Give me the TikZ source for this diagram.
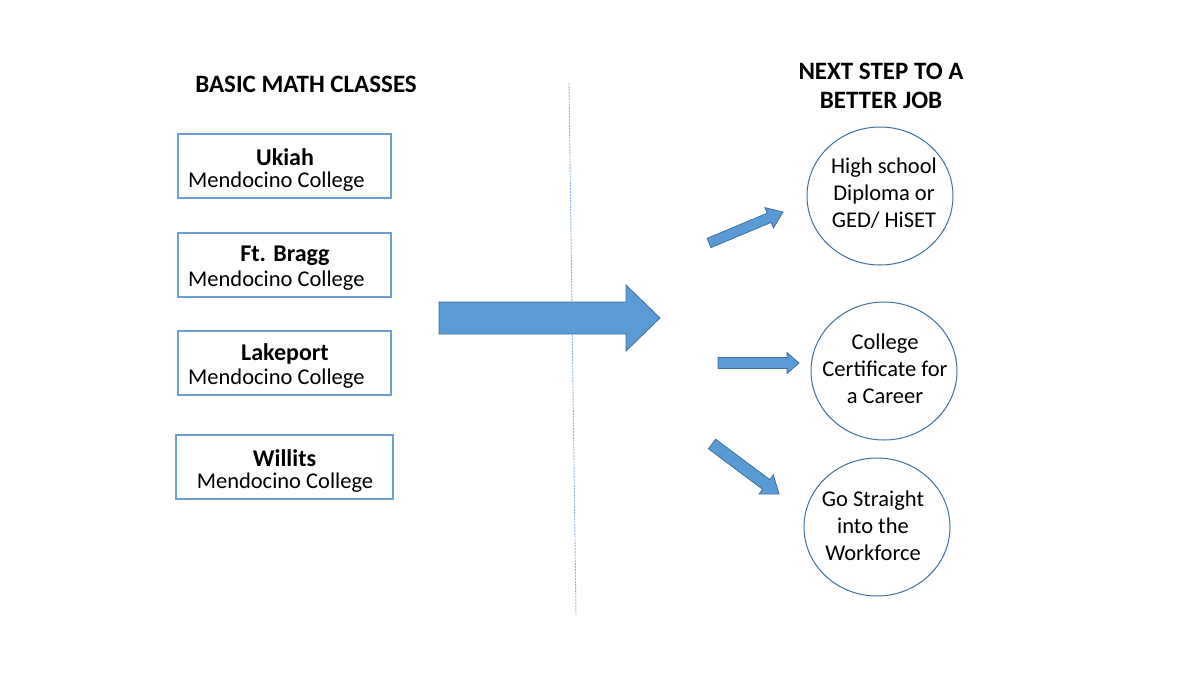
\documentclass[tikz,border=0pt]{standalone}
\usepackage{fontspec}
\setmainfont{Carlito}
\usetikzlibrary{calc,shapes.geometric}
\definecolor{boxblue}{HTML}{6C9FD6}
\definecolor{arrowfill}{HTML}{5B9BD5}
\definecolor{arrowline}{HTML}{41719C}
\definecolor{ringline}{HTML}{41719C}
\definecolor{divline}{HTML}{8FB4DE}
\newcommand\blockarr[5]{%
  \path ($(#2)!#5!(#1)$) coordinate (ba-n);
  \filldraw[arrowstyle] ($(#1)!#3!90:(#2)$) -- ($(ba-n)!#3!-90:(#1)$) -- ($(ba-n)!#4!-90:(#1)$) -- (#2) -- ($(ba-n)!#4!90:(#1)$) -- ($(ba-n)!#3!90:(#1)$) -- ($(#1)!#3!-90:(#2)$) -- cycle;}
\tikzset{
  arrowstyle/.style={fill=arrowfill, draw=arrowline, line width=0.8pt, line join=miter},
  campus/.style={draw=boxblue, line width=2.8pt, fill=white, minimum width=213pt, minimum height=64pt, inner sep=0pt},
  bodytext/.style={font=\fontsize{22.5}{27}\selectfont, inner sep=0pt, align=center},
  boldtext/.style={font=\fontsize{24}{27}\selectfont\bfseries, inner sep=0pt},
  titletext/.style={font=\fontsize{25}{29}\selectfont\bfseries, inner sep=0pt, align=center},
  goal/.style={ellipse, draw=ringline, line width=1pt, minimum width=146pt, minimum height=138pt, inner sep=0pt},
  goaltext/.style={align=center, inner sep=0pt, font=\fontsize{22.5}{27}\selectfont},
}
\begin{document}
\begin{tikzpicture}[x=1pt,y=-1pt]
\fill[white] (0,0) rectangle (1200,675);
\useasboundingbox (0,0) rectangle (1200,675);

% divider
\coordinate (dtop) at (569,83);
\coordinate (dbot) at (576,615);
\draw[divline, line width=0.9pt, dash pattern=on 2pt off 1pt] (dtop) -- (dbot);

% titles
\node[titletext] (lefttitle) at (306,84) {BASIC MATH CLASSES};
\node[titletext] (righttitle) at (881,86) {NEXT STEP TO A\\BETTER JOB};

% campus boxes
\node[campus] (ukiah) at (284.5,166) {};
\node[boldtext] (ukiahT) at (285,157) {Ukiah};
\node[bodytext, anchor=west] (ukiahM) at (188,182) {Mendocino College};

\node[campus] (bragg) at (284.5,265) {};
\node[boldtext] (braggT) at (285,256) {Ft. Bragg};
\node[bodytext, anchor=west] (braggM) at (188,281) {Mendocino College};

\node[campus] (lake) at (284.5,363) {};
\node[boldtext] (lakeT) at (285,354) {Lakeport};
\node[bodytext, anchor=west] (lakeM) at (188,379) {Mendocino College};

\node[campus, minimum width=217pt] (willits) at (284.5,467) {};
\node[boldtext] (willitsT) at (284.5,458) {Willits};
\node[bodytext] (willitsM) at (285,483) {Mendocino College};

% goals
\node[goal] (hs) at (880,196) {};
\node[goaltext] (hsT) at (884,193) {High school\\Diploma or\\GED/ HiSET};
\node[goal] (cert) at (884,371) {};
\node[goaltext] (certT) at (885,369) {College\\Certificate for\\a Career};
\node[goal] (work) at (877,527) {};
\node[goaltext] (workT) at (873,526) {Go Straight\\into the\\Workforce};

% arrows
\coordinate (bigS) at (439,318);
\coordinate (bigE) at (660,318);
\blockarr{bigS}{bigE}{16pt}{33pt}{34pt}

\coordinate (a1S) at (709,243);
\coordinate (a1E) at (783,212);
\blockarr{a1S}{a1E}{5pt}{11pt}{15pt}

\coordinate (a2S) at (718,363);
\coordinate (a2E) at (799,363);
\blockarr{a2S}{a2E}{5.5pt}{10.5pt}{12pt}

\coordinate (a3S) at (712,444);
\coordinate (a3E) at (779,494);
\blockarr{a3S}{a3E}{6pt}{12pt}{16pt}
\end{tikzpicture}
\end{document}
